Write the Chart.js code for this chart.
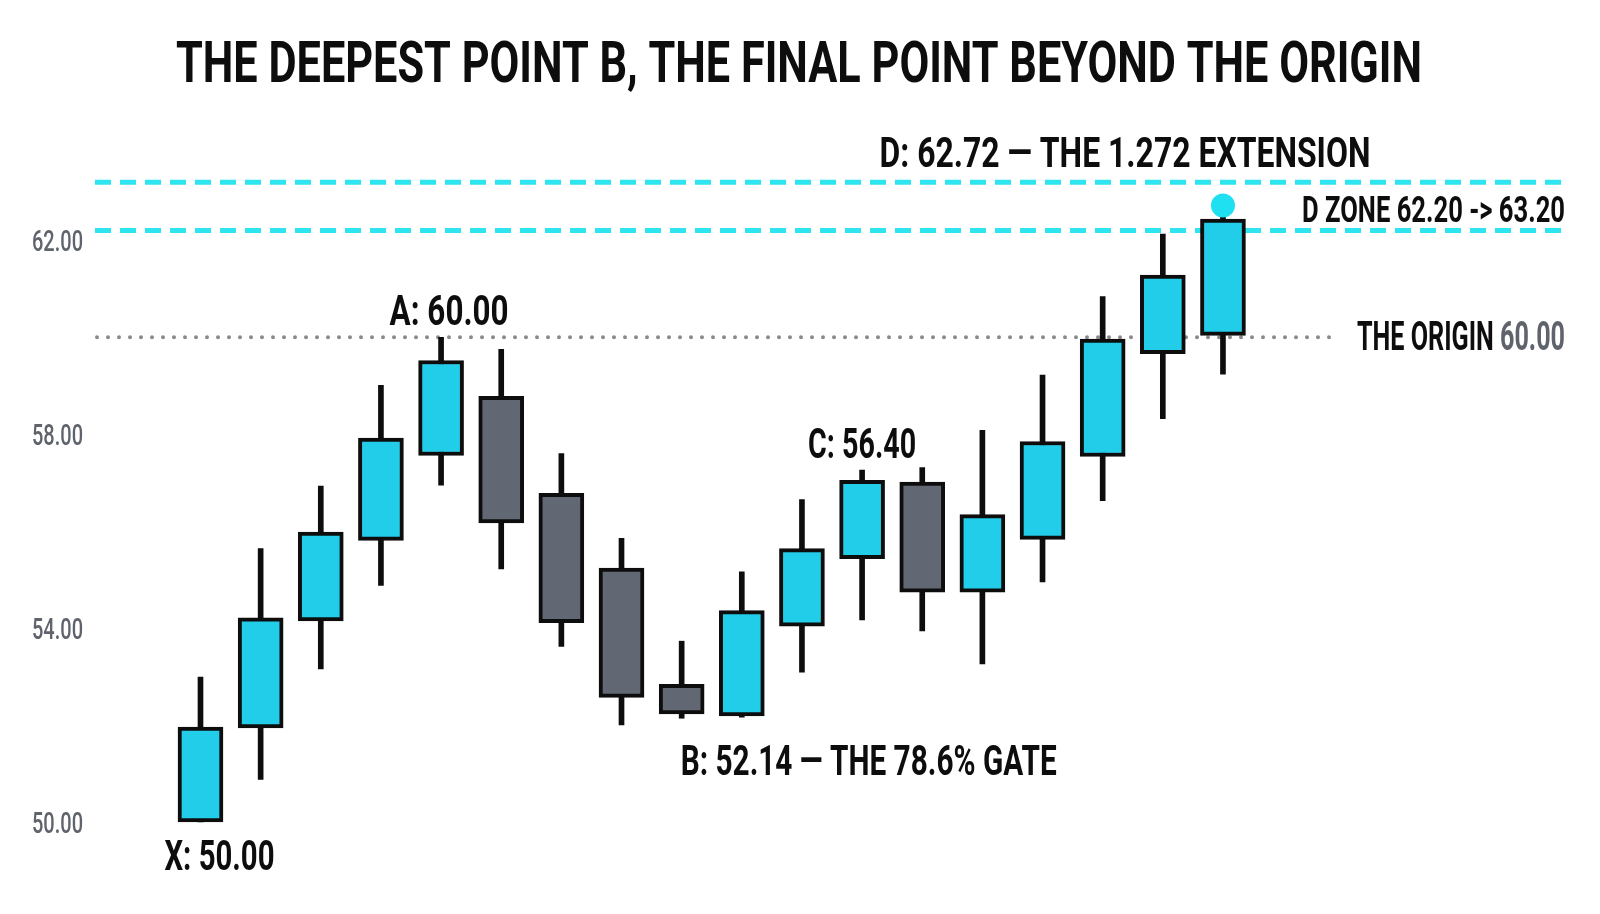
<!DOCTYPE html>
<html>
<head>
<meta charset="utf-8">
<script src="https://cdn.jsdelivr.net/npm/chart.js@4.4.1/dist/chart.umd.min.js"></script>
<style>
  html, body { margin: 0; padding: 0; background: #ffffff; }
  #wrap { width: 1600px; height: 914px; }
</style>
</head>
<body>
<div id="wrap"><canvas id="harmonicChart" width="1600" height="914"></canvas></div>
<script>
// Candle data
const candleIndex = [0, 1, 2, 3, 4, 5, 6, 7, 8, 9, 10, 11, 12, 13, 14, 15, 16, 17];
const opens  = [50.00, 51.94, 54.15, 55.81, 57.56, 58.78, 56.78, 55.24, 52.84, 52.19, 54.04, 55.43, 57.01, 54.74, 55.83, 57.54, 59.66, 60.04];
const highs  = [52.99, 55.64, 56.93, 59.01, 60.00, 59.75, 57.60, 55.85, 53.73, 55.16, 56.65, 57.26, 57.31, 58.08, 59.22, 60.84, 62.13, 62.72];
const lows   = [50.00, 50.88, 53.16, 54.88, 56.95, 55.22, 53.62, 52.00, 52.14, 52.16, 53.09, 54.17, 53.94, 53.26, 54.95, 56.63, 58.32, 59.24];
const closes = [51.96, 54.21, 55.98, 57.92, 59.52, 56.17, 54.11, 52.57, 52.23, 54.36, 55.64, 57.05, 54.74, 56.34, 57.85, 59.96, 61.28, 62.44];

// Y axis ticks
const tickValues = [50, 54, 58, 62];

// Pattern points and levels
const pointX = 50.00;
const pointA = 60.00;
const pointB = 52.14;
const pointC = 56.40;
const pointD = 62.72;
const dZone = [62.20, 63.20];
const originLevel = 60.00;

const CYAN = '#22cdea';
const GREY = '#626873';
const INK = '#0d0d0d';
const TICK_GREY = '#5f646c';

const bodies = candleIndex.map(i => ({ x: i, y: [opens[i], closes[i]] }));
const wicks = candleIndex.map(i => ({ x: i, y: [lows[i], highs[i]] }));
const bodyColors = candleIndex.map(i => closes[i] >= opens[i] ? CYAN : GREY);

// Draw condensed bold text squeezed to a given width
function squeezeText(ctx, parts, x, y, size, width, align, weight) {
    ctx.save();
    ctx.font = (weight || 'bold') + ' ' + size + 'px Roboto, "DejaVu Sans", sans-serif';
    ctx.textBaseline = 'alphabetic';
    ctx.textAlign = 'left';
    const widths = parts.map(p => ctx.measureText(p[0]).width);
    const total = widths.reduce((a, b) => a + b, 0);
    const sx = width / total;
    let left = x;
    if (align === 'center') left = x - width / 2;
    if (align === 'right') left = x - width;
    ctx.translate(left, y);
    ctx.scale(sx, 1);
    let cx = 0;
    parts.forEach((p, k) => {
        ctx.fillStyle = p[1];
        ctx.fillText(p[0], cx, 0);
        cx += widths[k];
    });
    ctx.restore();
}

function hLine(ctx, x1, x2, y, color, width, dash, cap) {
    ctx.save();
    ctx.strokeStyle = color;
    ctx.lineWidth = width;
    ctx.setLineDash(dash);
    ctx.lineCap = cap || 'butt';
    ctx.beginPath();
    ctx.moveTo(x1, y);
    ctx.lineTo(x2, y);
    ctx.stroke();
    ctx.restore();
}

// Levels drawn under the candles
const levelsPlugin = {
    id: 'levels',
    beforeDatasetsDraw(chart) {
        const { ctx, chartArea, scales } = chart;
        const y = scales.y;
        hLine(ctx, chartArea.left, chartArea.right, y.getPixelForValue(dZone[1]), '#2ee4ee', 5, [16, 9]);
        hLine(ctx, chartArea.left, chartArea.right, y.getPixelForValue(dZone[0]), '#2ee4ee', 5, [16, 9]);
        hLine(ctx, chartArea.left + 2, 1340, y.getPixelForValue(originLevel), '#8a8a8a', 4, [0, 11], 'round');
    }
};

// Labels and D marker drawn over the candles
const labelsPlugin = {
    id: 'labels',
    afterDatasetsDraw(chart) {
        const { ctx, scales } = chart;
        const x = scales.x, y = scales.y;

        // title
        squeezeText(ctx, [['THE DEEPEST POINT B, THE FINAL POINT BEYOND THE ORIGIN', INK]], 799, 82, 58, 1246, 'center');

        // y tick labels
        y.ticks.forEach(t => {
            squeezeText(ctx, [[t.value.toFixed(2), TICK_GREY]], 32, y.getPixelForValue(t.value) + 11, 30, 51, 'left', '500');
        });

        // D marker
        ctx.save();
        ctx.fillStyle = '#1fe0f0';
        ctx.beginPath();
        ctx.arc(x.getPixelForValue(17), y.getPixelForValue(pointD), 12, 0, Math.PI * 2);
        ctx.fill();
        ctx.restore();

        squeezeText(ctx, [['D: ' + pointD.toFixed(2) + ' \u2014 THE 1.272 EXTENSION', INK]],
            x.getPixelForValue(17) - 98, y.getPixelForValue(dZone[1]) - 15, 43, 491, 'center');
        squeezeText(ctx, [['D ZONE ' + dZone[0].toFixed(2) + ' -> ' + dZone[1].toFixed(2), INK]],
            1565, y.getPixelForValue(dZone[0]) - 9, 37, 263, 'right');
        squeezeText(ctx, [['THE ORIGIN ', INK], [originLevel.toFixed(2), TICK_GREY]],
            1565, y.getPixelForValue(originLevel) + 13, 40, 208, 'right');

        squeezeText(ctx, [['A: ' + pointA.toFixed(2), INK]],
            x.getPixelForValue(4) + 8, y.getPixelForValue(pointA) - 12, 43, 119, 'center');
        squeezeText(ctx, [['C: ' + pointC.toFixed(2), INK]],
            x.getPixelForValue(11), y.getPixelForValue(highs[11]) - 12, 43, 108, 'center');
        squeezeText(ctx, [['B: ' + pointB.toFixed(2) + ' \u2014 THE 78.6% GATE', INK]],
            x.getPixelForValue(8) - 1, y.getPixelForValue(pointB) + 57, 43, 376, 'left');
        squeezeText(ctx, [['X: ' + pointX.toFixed(2), INK]],
            x.getPixelForValue(0) + 19, y.getPixelForValue(pointX) + 48, 43, 110, 'center');
    }
};

new Chart(document.getElementById('harmonicChart'), {
    type: 'bar',
    data: {
        datasets: [
            {
                label: 'Body',
                data: bodies,
                backgroundColor: bodyColors,
                borderColor: INK,
                borderWidth: 4,
                borderSkipped: false,
                barThickness: 45,
                grouped: false,
                order: 0
            },
            {
                label: 'Wick',
                data: wicks,
                backgroundColor: INK,
                borderWidth: 0,
                barThickness: 5,
                grouped: false,
                order: 1
            }
        ]
    },
    plugins: [levelsPlugin, labelsPlugin],
    options: {
        responsive: false,
        animation: false,
        devicePixelRatio: 1,
        layout: { padding: { top: 110, bottom: 10, left: 0, right: 33 } },
        plugins: {
            legend: { display: false },
            tooltip: { enabled: false },
            title: { display: false }
        },
        scales: {
            x: {
                type: 'linear',
                display: false,
                offset: false,
                bounds: 'data',
                min: -1.754,
                max: 22.72
            },
            y: {
                min: 48.308,
                max: 64.688,
                grid: { display: false },
                border: { display: false },
                ticks: { display: false },
                afterBuildTicks(scale) {
                    scale.ticks = tickValues.map(v => ({ value: v }));
                },
                afterFit(scale) {
                    scale.width = 95;
                }
            }
        }
    }
});
</script>
</body>
</html>
